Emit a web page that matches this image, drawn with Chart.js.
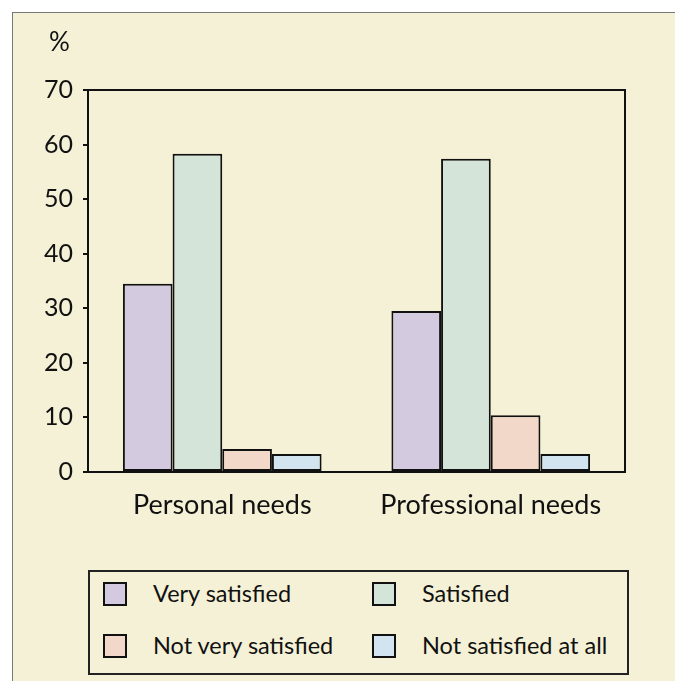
<!DOCTYPE html>
<html>
<head>
<meta charset="utf-8">
<script src="https://cdn.jsdelivr.net/npm/chart.js@4.4.1/dist/chart.umd.min.js"></script>
<style>
  body { margin: 0; background: #fff; font-family: Lato, sans-serif; }
  #frame {
    position: absolute; left: 12px; top: 12px; width: 663px; height: 669px;
    background: #f5f1d6; border-left: 1px solid #777; border-top: 1px solid #777;
  }
  #chart { position: absolute; left: 0; top: 0; }
  #unit { position: absolute; left: 49px; top: 25px; font-size: 26px; line-height: 32px; color: #111; }
  #legend {
    position: absolute; left: 88px; top: 570px; width: 537px; height: 101px;
    border: 2px solid #222;
  }
  .sw { position: absolute; width: 20px; height: 20px; border: 2px solid #111; }
  .lt { position: absolute; font-size: 23.5px; color: #111; line-height: 26px; }
</style>
</head>
<body>
<div id="frame"></div>
<canvas id="chart" width="675" height="560"></canvas>
<div id="unit">%</div>
<div id="legend"></div>
<script>
// Data
const categories = ['Personal needs', 'Professional needs'];
const seriesNames = ['Very satisfied', 'Satisfied', 'Not very satisfied', 'Not satisfied at all'];
const verySatisfied = [34.5, 29.5];
const satisfied = [58.3, 57.4];
const notVerySatisfied = [4.2, 10.4];
const notSatisfiedAtAll = [3.3, 3.3];
const yTicks = [0, 10, 20, 30, 40, 50, 60, 70];

const colors = ['#d4cae0', '#d4e4d8', '#f2d8c8', '#d2e4ef'];
const values = [verySatisfied, satisfied, notVerySatisfied, notSatisfiedAtAll];

// box around the plot area (top and right sides too)
const boxPlugin = {
  id: 'plotBox',
  afterDatasetsDraw(chart) {
    const a = chart.chartArea;
    const ctx = chart.ctx;
    ctx.save();
    ctx.strokeStyle = '#111';
    ctx.lineWidth = 2;
    ctx.strokeRect(a.left, a.top, a.right - a.left, a.bottom - a.top);
    ctx.restore();
  }
};

const ctx = document.getElementById('chart').getContext('2d');
const myChart = new Chart(ctx, {
  type: 'bar',
  data: {
    labels: categories,
    datasets: seriesNames.map((name, i) => ({
      label: name,
      data: values[i],
      backgroundColor: colors[i],
      borderColor: '#111',
      borderWidth: 2,
      borderSkipped: false,
      barPercentage: 1,
      categoryPercentage: 0.74
    }))
  },
  options: {
    responsive: false,
    animation: false,
    layout: { padding: { top: 90, left: 0, right: 50, bottom: 28 } },
    plugins: { legend: { display: false }, tooltip: { enabled: false } },
    scales: {
      x: {
        grid: { display: false, drawTicks: false },
        border: { display: true, color: '#111', width: 2 },
        ticks: { color: '#111', font: { family: 'Lato', size: 27 }, padding: 17 },
        afterFit(scale) { scale.height = 60; }
      },
      y: {
        min: 0,
        max: 70,
        afterBuildTicks(scale) { scale.ticks = yTicks.map(v => ({ value: v })); },
        grid: { drawOnChartArea: false, drawTicks: true, tickLength: 5, color: '#111', lineWidth: 2 },
        border: { display: true, color: '#111', width: 2 },
        ticks: { color: '#111', font: { family: 'Lato', size: 25 }, padding: 10 },
        afterFit(scale) { scale.width = 88; }
      }
    }
  },
  plugins: [boxPlugin]
});

// legend in a bordered box, two columns
const legend = document.getElementById('legend');
const colX = [13, 282];
const rowY = [10, 62];
seriesNames.forEach((name, i) => {
  const col = i % 2, row = Math.floor(i / 2);
  const sw = document.createElement('div');
  sw.className = 'sw';
  sw.style.left = colX[col] + 'px';
  sw.style.top = rowY[row] + 'px';
  sw.style.background = colors[i];
  legend.appendChild(sw);
  const t = document.createElement('div');
  t.className = 'lt';
  t.textContent = name;
  t.style.left = (colX[col] + 50) + 'px';
  t.style.top = (rowY[row] - 2) + 'px';
  legend.appendChild(t);
});
</script>
</body>
</html>
